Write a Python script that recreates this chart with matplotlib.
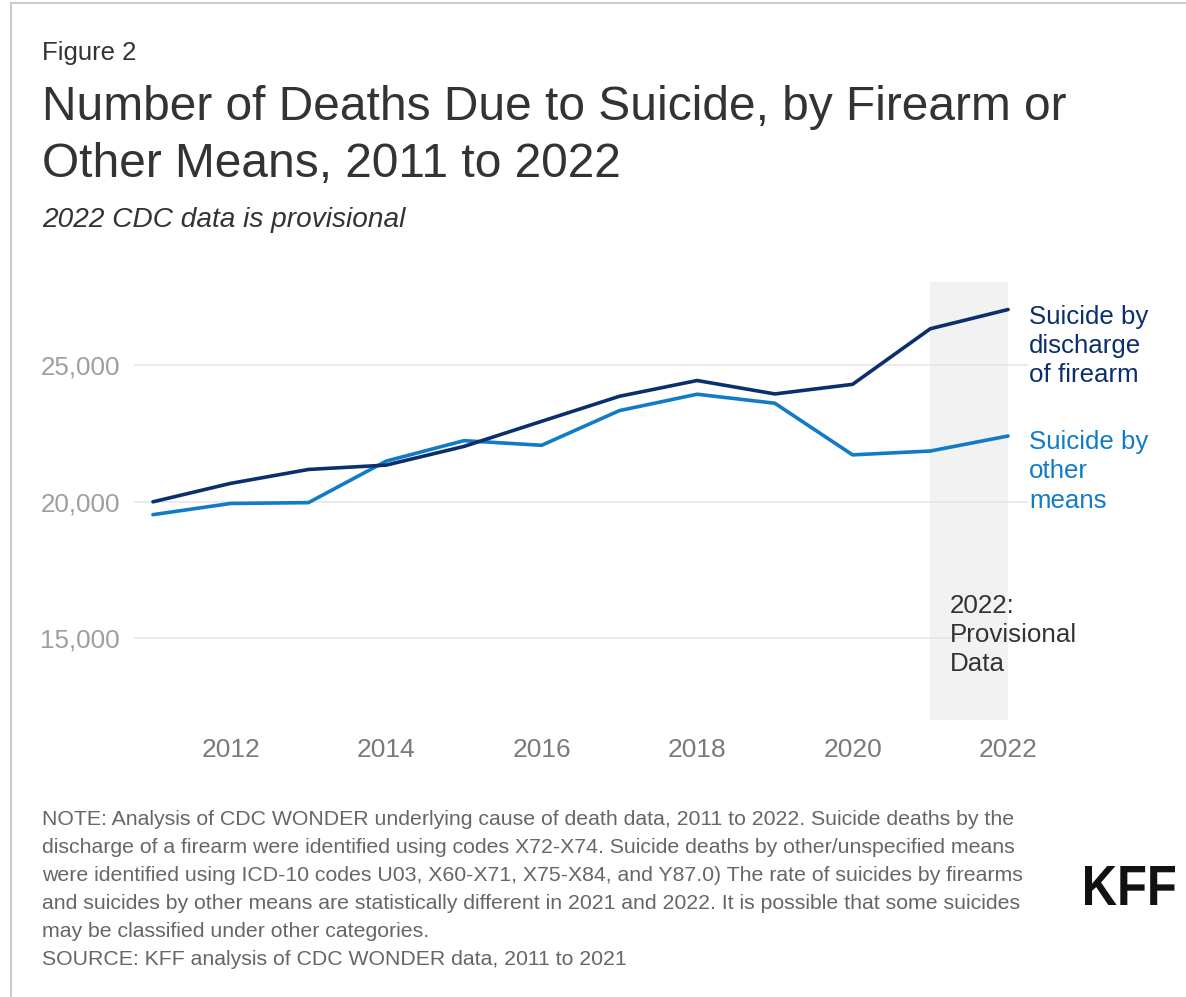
import matplotlib
matplotlib.use("Agg")
import matplotlib.pyplot as plt
from matplotlib.lines import Line2D
from matplotlib.textpath import TextPath
from matplotlib.patches import PathPatch
from matplotlib.font_manager import FontProperties
from matplotlib.transforms import Affine2D

plt.rcParams['font.family'] = ['Liberation Sans', 'DejaVu Sans']

years = [2011, 2012, 2013, 2014, 2015, 2016, 2017, 2018, 2019, 2020, 2021, 2022]
firearm = [19990, 20666, 21175, 21334, 22018, 22938, 23854, 24432, 23941, 24292, 26328, 27032]
other_means = [19520, 19930, 19960, 21480, 22230, 22060, 23330, 23930, 23600, 21710, 21850, 22400]
yticks = [15000, 20000, 25000]
xticks = [2012, 2014, 2016, 2018, 2020, 2022]
provisional_span = (2021, 2022)

FIRE_COLOR = "#0b2f6b"
OTHER_COLOR = "#117bc6"

W, H = 1186, 997
fig = plt.figure(figsize=(W / 100, H / 100), dpi=100)

def fx(px):
    return px / W

def fy(py):
    return 1 - py / H

# axes placement
left, right, top, bottom = 134, 1028, 282, 720
ax = fig.add_axes([fx(left), fy(bottom), fx(right - left), (bottom - top) / H])

ax.axvspan(*provisional_span, color="#f2f2f2", zorder=0, lw=0)
ax.plot(years, other_means, color=OTHER_COLOR, lw=2.6, zorder=3, solid_capstyle='round')
ax.plot(years, firearm, color=FIRE_COLOR, lw=2.6, zorder=4, solid_capstyle='round')

ax.set_xlim(2010.756, 2022.257)
ax.set_ylim(12000, 28040)
ax.set_yticks(yticks)
ax.set_yticklabels([f"{v:,}" for v in yticks])
ax.set_xticks(xticks)
ax.set_xticklabels([str(v) for v in xticks])
ax.tick_params(axis='y', length=0, pad=10, labelsize=18.7, labelcolor="#9e9e9e")
ax.tick_params(axis='x', length=0, pad=13, labelsize=19, labelcolor="#7a7a7a")
ax.grid(axis='y', color="#e4e4e4", lw=1.1, zorder=1)
ax.grid(axis='x', visible=False)
ax.set_axisbelow(True)
for s in ax.spines.values():
    s.set_visible(False)
ax.patch.set_alpha(0)

# series labels
ax.annotate("Suicide by\ndischarge\nof firearm", xy=(years[-1], firearm[-1]),
            xytext=(15, -26), textcoords='offset points', ha='left', va='center',
            fontsize=18.6, color=FIRE_COLOR, linespacing=1.27, annotation_clip=False)
ax.annotate("Suicide by\nother\nmeans", xy=(years[-1], other_means[-1]),
            xytext=(15, -25.5), textcoords='offset points', ha='left', va='center',
            fontsize=18.6, color=OTHER_COLOR, linespacing=1.27, annotation_clip=False)

fig.text(fx(950), fy(635), "2022:\nProvisional\nData", ha='left', va='center',
         fontsize=18.7, color="#333333", linespacing=1.27)

# titles
fig.text(fx(42), fy(53), "Figure 2", ha='left', va='center', fontsize=18.5, color="#333333")
fig.text(fx(42), fy(136), "Number of Deaths Due to Suicide, by Firearm or\nOther Means, 2011 to 2022",
         ha='left', va='center', fontsize=34.5, color="#333333", linespacing=1.36)
fig.text(fx(42), fy(220), "2022 CDC data is provisional", ha='left', va='center',
         fontsize=20.2, color="#333333", style='italic')

note = ("NOTE: Analysis of CDC WONDER underlying cause of death data, 2011 to 2022. Suicide deaths by the\n"
        "discharge of a firearm were identified using codes X72-X74. Suicide deaths by other/unspecified means\n"
        "were identified using ICD-10 codes U03, X60-X71, X75-X84, and Y87.0) The rate of suicides by firearms\n"
        "and suicides by other means are statistically different in 2021 and 2022. It is possible that some suicides\n"
        "may be classified under other categories.\n"
        "SOURCE: KFF analysis of CDC WONDER data, 2011 to 2021")
fig.text(fx(42), fy(889), note, ha='left', va='center', fontsize=15.3, color="#666666", linespacing=1.6)

# KFF logo: condensed heavy lettering via a scaled text path (in pixel units)
tp = TextPath((0, 0), "KFF", size=100, prop=FontProperties(family='Liberation Sans', weight='bold'))
ext = tp.get_extents()
target_w, target_h = 90, 39
sx = target_w / ext.width
sy = target_h / ext.height
trans = (Affine2D().translate(-ext.x0, -ext.y0).scale(sx, sy)
         .translate(1085, H - 905) + fig.dpi_scale_trans.inverted() + fig.dpi_scale_trans
         if False else
         Affine2D().translate(-ext.x0, -ext.y0).scale(sx, sy).translate(1085, H - 905))
patch = PathPatch(tp, transform=trans, facecolor="#111111", edgecolor="none")
fig.add_artist(patch)

# frame lines
fig.add_artist(Line2D([fx(11), 1], [fy(3), fy(3)], color="#cccccc", lw=1.5))
fig.add_artist(Line2D([fx(11), fx(11)], [0, fy(3)], color="#cccccc", lw=1.5))

fig.savefig("out.png", dpi=100, facecolor="white")
